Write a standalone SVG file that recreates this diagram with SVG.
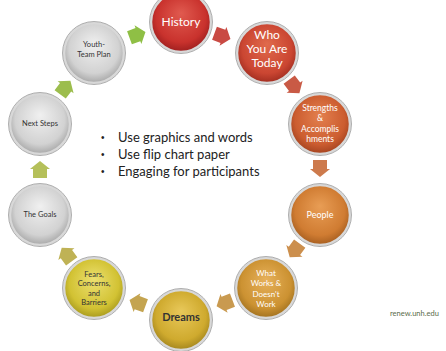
<svg xmlns="http://www.w3.org/2000/svg" width="446" height="351" viewBox="0 0 446 351">
<defs>
<radialGradient id="gHist" cx="0.5" cy="0.45" r="0.55" fx="0.5" fy="0.35"><stop offset="0" stop-color="#e05a4f"/><stop offset="0.75" stop-color="#c9322d"/><stop offset="1" stop-color="#9e1f1f"/></radialGradient>
<radialGradient id="gWho" cx="0.5" cy="0.45" r="0.55" fx="0.5" fy="0.35"><stop offset="0" stop-color="#e06a4c"/><stop offset="0.75" stop-color="#cb4632"/><stop offset="1" stop-color="#a12d20"/></radialGradient>
<radialGradient id="gStr" cx="0.5" cy="0.45" r="0.55" fx="0.5" fy="0.35"><stop offset="0" stop-color="#e3804f"/><stop offset="0.75" stop-color="#cc5d30"/><stop offset="1" stop-color="#a44320"/></radialGradient>
<radialGradient id="gPeo" cx="0.5" cy="0.45" r="0.55" fx="0.5" fy="0.35"><stop offset="0" stop-color="#e89d55"/><stop offset="0.75" stop-color="#d07c32"/><stop offset="1" stop-color="#a65e20"/></radialGradient>
<radialGradient id="gWha" cx="0.5" cy="0.45" r="0.55" fx="0.5" fy="0.35"><stop offset="0" stop-color="#e6b05a"/><stop offset="0.75" stop-color="#cc9232"/><stop offset="1" stop-color="#a27220"/></radialGradient>
<radialGradient id="gDre" cx="0.5" cy="0.45" r="0.55" fx="0.5" fy="0.35"><stop offset="0" stop-color="#e8c85a"/><stop offset="0.75" stop-color="#cfaa2e"/><stop offset="1" stop-color="#a4861e"/></radialGradient>
<radialGradient id="gFea" cx="0.5" cy="0.45" r="0.55" fx="0.5" fy="0.35"><stop offset="0" stop-color="#ece070"/><stop offset="0.75" stop-color="#d2c233"/><stop offset="1" stop-color="#a89a1e"/></radialGradient>
<radialGradient id="gGre" cx="0.5" cy="0.45" r="0.55" fx="0.5" fy="0.35"><stop offset="0" stop-color="#f0f0f0"/><stop offset="0.75" stop-color="#d2d2d2"/><stop offset="1" stop-color="#a8a8a8"/></radialGradient>
<polygon id="arw" points="-8,-7 1,-7 1,-10 9,0 1,10 1,7 -8,7"/>
</defs>
<style>
.ring{stroke:#d8d8d8;stroke-width:2.5}
.rim{fill:none;stroke:#9a9a9a;stroke-width:0.8}
.wt{fill:#ffffff;font-family:Lato,"Liberation Sans",sans-serif;text-anchor:middle}
.dk{fill:#333333;font-family:Lato,"Liberation Sans",sans-serif;text-anchor:middle}
.bl{fill:#222222;font-family:Lato,"Liberation Sans",sans-serif;font-size:13px}
.bd{fill:#222222;font-family:"Liberation Sans",sans-serif;font-size:10px}
</style>
<g id="connectors">
<use href="#arw" transform="translate(222,36) rotate(20)" fill="#c94a43"/>
<use href="#arw" transform="translate(294,86) rotate(53)" fill="#c95a45"/>
<use href="#arw" transform="translate(320,168) rotate(90)" fill="#cd7a4c"/>
<use href="#arw" transform="translate(295,250) rotate(126)" fill="#cc8f4d"/>
<use href="#arw" transform="translate(225,303) rotate(159)" fill="#c99a50"/>
<use href="#arw" transform="translate(138,303) rotate(200)" fill="#c4a450"/>
<use href="#arw" transform="translate(67,255) rotate(234)" fill="#bfb255"/>
<use href="#arw" transform="translate(40,170) rotate(270)" fill="#b5c05a"/>
<use href="#arw" transform="translate(65,88) rotate(307)" fill="#9cbd4d"/>
<use href="#arw" transform="translate(137,35) rotate(340)" fill="#8fbf45"/>
</g>
<g id="history">
<circle cx="181" cy="22" r="30" fill="url(#gHist)" class="ring"/><circle cx="181" cy="22" r="31.5" class="rim"/>
<text x="181" y="26" class="wt" font-size="12">History</text>
</g>
<g id="who">
<circle cx="267" cy="53" r="30" fill="url(#gWho)" class="ring"/><circle cx="267" cy="53" r="31.5" class="rim"/>
<text class="wt" font-size="12"><tspan x="267" y="39">Who</tspan><tspan x="267" y="53">You Are</tspan><tspan x="267" y="67">Today</tspan></text>
</g>
<g id="strengths">
<circle cx="320" cy="124" r="30" fill="url(#gStr)" class="ring"/><circle cx="320" cy="124" r="31.5" class="rim"/>
<text class="wt" font-size="8.5"><tspan x="320" y="111">Strengths</tspan><tspan x="320" y="121">&amp;</tspan><tspan x="320" y="132">Accomplis</tspan><tspan x="320" y="142">hments</tspan></text>
</g>
<g id="people">
<circle cx="320" cy="215" r="30" fill="url(#gPeo)" class="ring"/><circle cx="320" cy="215" r="31.5" class="rim"/>
<text x="320" y="218" class="wt" font-size="9">People</text>
</g>
<g id="whatworks">
<circle cx="266" cy="288" r="30" fill="url(#gWha)" class="ring"/><circle cx="266" cy="288" r="31.5" class="rim"/>
<text class="wt" font-size="8"><tspan x="266" y="276">What</tspan><tspan x="266" y="286">Works &amp;</tspan><tspan x="266" y="297">Doesn't</tspan><tspan x="266" y="307">Work</tspan></text>
</g>
<g id="dreams">
<circle cx="181" cy="320" r="30" fill="url(#gDre)" class="ring"/><circle cx="181" cy="320" r="31.5" class="rim"/>
<text x="181" y="321" class="dk" font-size="11" font-weight="bold">Dreams</text>
</g>
<g id="fears">
<circle cx="94" cy="288" r="30" fill="url(#gFea)" class="ring"/><circle cx="94" cy="288" r="31.5" class="rim"/>
<text class="dk" font-size="7.5"><tspan x="94" y="277">Fears,</tspan><tspan x="94" y="286">Concerns,</tspan><tspan x="94" y="296">and</tspan><tspan x="94" y="305">Barriers</tspan></text>
</g>
<g id="goals">
<circle cx="40" cy="215" r="30" fill="url(#gGre)" class="ring"/><circle cx="40" cy="215" r="31.5" class="rim"/>
<text x="40" y="217" class="dk" font-size="7.5">The Goals</text>
</g>
<g id="nextsteps">
<circle cx="40" cy="124" r="30" fill="url(#gGre)" class="ring"/><circle cx="40" cy="124" r="31.5" class="rim"/>
<text x="40" y="126" class="dk" font-size="7.5">Next Steps</text>
</g>
<g id="youth">
<circle cx="94" cy="53" r="30" fill="url(#gGre)" class="ring"/><circle cx="94" cy="53" r="31.5" class="rim"/>
<text class="dk" font-size="7.5"><tspan x="94" y="47">Youth-</tspan><tspan x="94" y="57">Team Plan</tspan></text>
</g>
<g id="bullets">
<text x="101" y="141" class="bd">•</text><text x="118" y="142" class="bl">Use graphics and words</text>
<text x="101" y="158" class="bd">•</text><text x="118" y="159" class="bl">Use flip chart paper</text>
<text x="101" y="175" class="bd">•</text><text x="118" y="176" class="bl">Engaging for participants</text>
</g>
<text x="390" y="316" fill="#5b6b4a" font-family="Lato,'Liberation Sans',sans-serif" font-size="7.5">renew.unh.edu</text>
</svg>
